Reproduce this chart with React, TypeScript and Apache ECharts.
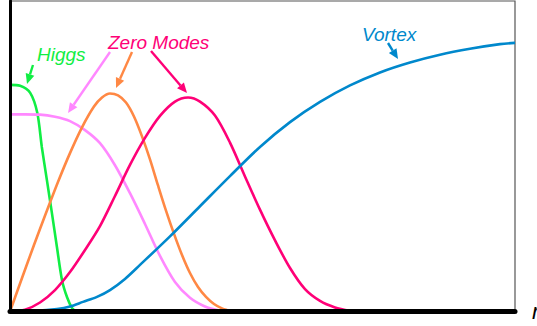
import React, { useEffect, useRef } from "react";
import * as echarts from "echarts";

// r (radial coordinate, 0..10) and profile values (0..1)
const higgs: [number, number][] = [
  [0, 0.73], [0.2, 0.727], [0.4, 0.704], [0.54, 0.64], [0.63, 0.53], [0.73, 0.424],
  [0.83, 0.317], [0.93, 0.207], [1.03, 0.101], [1.13, 0.046], [1.23, 0.011], [1.31, 0.0],
];
const zeroModeA: [number, number][] = [
  [0, 0.635], [0.297, 0.635], [0.594, 0.634], [0.891, 0.627], [1.188, 0.613], [1.485, 0.584],
  [1.782, 0.542], [2.079, 0.471], [2.376, 0.381], [2.673, 0.282], [2.97, 0.179], [3.267, 0.095],
  [3.564, 0.044], [3.861, 0.016], [4.158, 0.002],
];
const zeroModeB: [number, number][] = [
  [0, 0], [0.238, 0.108], [0.475, 0.214], [0.713, 0.317], [0.95, 0.417], [1.188, 0.51],
  [1.426, 0.593], [1.663, 0.66], [1.822, 0.689], [1.98, 0.702], [2.139, 0.696], [2.297, 0.673],
  [2.455, 0.628], [2.614, 0.564], [2.772, 0.49], [2.931, 0.406], [3.089, 0.325], [3.248, 0.25],
  [3.406, 0.182], [3.564, 0.124], [3.723, 0.079], [3.881, 0.047], [4.04, 0.024], [4.198, 0.01],
  [4.396, 0],
];
const zeroModeC: [number, number][] = [
  [0, 0.002], [0.297, 0.006], [0.594, 0.029], [0.891, 0.069], [1.188, 0.127], [1.485, 0.198],
  [1.782, 0.275], [2.079, 0.372], [2.376, 0.472], [2.673, 0.559], [2.97, 0.63], [3.267, 0.676],
  [3.525, 0.689], [3.762, 0.676], [4.059, 0.631], [4.356, 0.544], [4.653, 0.435], [4.95, 0.328],
  [5.248, 0.229], [5.545, 0.14], [5.842, 0.072], [6.139, 0.034], [6.436, 0.013], [6.733, 0.002],
];
const vortex: [number, number][] = [
  [0, 0], [0.495, 0.002], [0.931, 0.008], [1.188, 0.016], [1.446, 0.031], [1.723, 0.047],
  [1.98, 0.069], [2.277, 0.105], [2.574, 0.15], [3.168, 0.242], [3.762, 0.339], [4.356, 0.436],
  [4.95, 0.53], [5.545, 0.61], [6.139, 0.675], [6.733, 0.728], [7.327, 0.77], [7.921, 0.802],
  [8.515, 0.827], [9.109, 0.846], [9.703, 0.861], [10, 0.865],
];

const seriesNames = ["Higgs", "Zero Mode A", "Zero Mode B", "Zero Mode C", "Vortex"];
const seriesColors = ["#11ee44", "#ff88ff", "#ff8844", "#ff0077", "#0088cc"];
const seriesData = [higgs, zeroModeA, zeroModeB, zeroModeC, vortex];

const FONT = '"Liberation Sans", Arial, Helvetica, sans-serif';

function arrow(x1: number, y1: number, x2: number, y2: number, color: string) {
  const a = Math.atan2(y2 - y1, x2 - x1);
  const L = 10;
  const W = 4.5;
  const bx = x2 - L * Math.cos(a);
  const by = y2 - L * Math.sin(a);
  return {
    type: "group",
    children: [
      {
        type: "line",
        shape: { x1, y1, x2: bx, y2: by },
        style: { stroke: color, lineWidth: 2.4 },
      },
      {
        type: "polygon",
        shape: {
          points: [
            [x2, y2],
            [bx + W * Math.sin(a), by - W * Math.cos(a)],
            [bx - W * Math.sin(a), by + W * Math.cos(a)],
          ],
        },
        style: { fill: color },
      },
    ],
  };
}

function label(text: string, x: number, y: number, color: string) {
  return {
    type: "text",
    x,
    y,
    style: {
      text,
      fill: color,
      fontSize: 19,
      fontStyle: "italic",
      fontFamily: FONT,
      verticalAlign: "top",
      align: "left",
    },
  };
}

export default function App() {
  const ref = useRef<HTMLDivElement>(null);
  useEffect(() => {
    if (!ref.current) return;
    const chart = echarts.init(ref.current, null, { renderer: "svg" });
    chart.setOption({
      animation: false,
      backgroundColor: "#ffffff",
      grid: {
        left: 10,
        top: 1,
        right: 22,
        bottom: 14.5,
        show: true,
        borderColor: "#555555",
        borderWidth: 1.2,
        containLabel: false,
        outerBoundsMode: "none",
      },
      xAxis: {
        type: "value",
        min: 0,
        max: 10,
        z: 10,
        name: "r",
        nameLocation: "end",
        nameGap: 17,
        nameTextStyle: {
          fontSize: 22,
          fontStyle: "italic",
          fontFamily: FONT,
          color: "#000",
          verticalAlign: "middle",
          padding: [8, 0, 0, 0],
        },
        axisLine: { show: true, lineStyle: { color: "#000", width: 5 } },
        axisTick: { show: false },
        axisLabel: { show: false },
        splitLine: { show: false },
      },
      yAxis: {
        type: "value",
        min: 0,
        max: 1,
        z: 10,
        axisLine: { show: true, lineStyle: { color: "#000", width: 3 } },
        axisTick: { show: false },
        axisLabel: { show: false },
        splitLine: { show: false },
      },
      series: seriesData.map((d, i) => ({
        name: seriesNames[i],
        type: "line",
        data: d,
        smooth: 0.3,
        symbol: "none",
        lineStyle: { color: seriesColors[i], width: 2.6 },
        z: 1,
      })),
      graphic: [
        label("Higgs", 37, 45, "#11ee44"),
        label("Zero Modes", 108, 33, "#ff0077"),
        label("Vortex", 362, 25, "#0088cc"),
        arrow(33, 65, 27, 84, "#11ee44"),
        arrow(110, 52, 68, 113, "#ff88ff"),
        arrow(132, 52, 116, 88, "#ff8844"),
        arrow(151, 51, 187, 93, "#ff0077"),
        arrow(388, 43, 398, 59, "#0088cc"),
      ],
    });
    return () => chart.dispose();
  }, []);
  return (
    <div
      ref={ref}
      style={{ position: "fixed", left: 0, top: 0, width: 537, height: 326 }}
    />
  );
}
